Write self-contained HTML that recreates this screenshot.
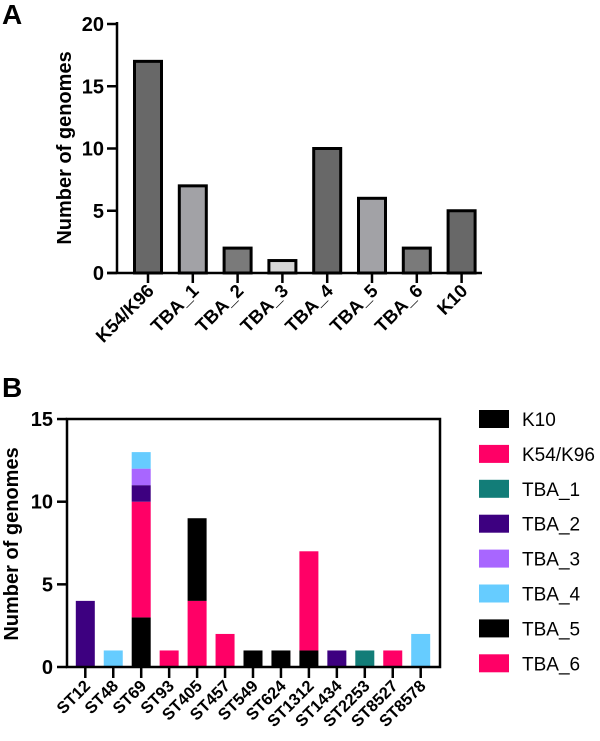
<!DOCTYPE html>
<html><head><meta charset="utf-8"><style>
body{margin:0;background:#fff;}
svg{display:block;font-family:"Liberation Sans",Arial,sans-serif;}
</style></head><body>
<svg id="svg" width="600" height="741" viewBox="0 0 600 741">
<text x="2" y="24" font-size="28" font-weight="bold">A</text>
<text x="2" y="397" font-size="28" font-weight="bold">B</text>
<g id="ga"></g>
<g id="gb"></g>
</svg>
<script>
const NS="http://www.w3.org/2000/svg";
function mk(p,t,a){const e=document.createElementNS(NS,t);for(const k in a)e.setAttribute(k,a[k]);p.appendChild(e);return e;}

// Chart A data
const catsA=["K54/K96","TBA_1","TBA_2","TBA_3","TBA_4","TBA_5","TBA_6","K10"];
const valsA=[17,7,2,1,10,6,2,5];
const fillsA=["#686868","#a2a2a6","#7a7a7a","#d6d6d6","#686868","#a2a2a6","#7a7a7a","#686868"];
const ticksA=[0,5,10,15,20];

// Chart B data
const catsB=["ST12","ST48","ST69","ST93","ST405","ST457","ST549","ST624","ST1312","ST1434","ST2253","ST8527","ST8578"];
const seriesNames=["K10","K54/K96","TBA_1","TBA_2","TBA_3","TBA_4","TBA_5","TBA_6"];
const seriesColors=["#000000","#ff0066","#127d78","#3d0080","#a866ff","#66ccff","#000000","#ff0066"];
const sK10=[0,0,3,0,0,0,1,0,1,0,0,0,0];
const sK54=[0,0,7,1,4,2,0,0,6,0,0,1,0];
const sTBA1=[0,0,0,0,0,0,0,0,0,0,1,0,0];
const sTBA2=[4,0,1,0,0,0,0,0,0,1,0,0,0];
const sTBA3=[0,0,1,0,0,0,0,0,0,0,0,0,0];
const sTBA4=[0,1,1,0,0,0,0,0,0,0,0,0,2];
const sTBA5=[0,0,0,0,5,0,0,1,0,0,0,0,0];
const sTBA6=[0,0,0,0,0,0,0,0,0,0,0,0,0];
const ticksB=[0,5,10,15];

// ---- Chart A
const ga=document.getElementById('ga');
const yA=v=>273-v*12.45, xA=i=>148+i*44.8;
catsA.forEach((c,i)=>{
  const r=mk(ga,'rect',{x:xA(i)-13.5,y:yA(valsA[i]),width:27,height:yA(0)-yA(valsA[i]),fill:fillsA[i],stroke:'#000','stroke-width':3});
  
  
  mk(ga,'line',{x1:xA(i),x2:xA(i),y1:273,y2:283,stroke:'#000','stroke-width':2.5});
  const t=mk(ga,'text',{transform:`translate(${xA(i)+7},${292}) rotate(-45)`,'text-anchor':'end','font-size':18.5,'font-weight':'bold'});
  t.textContent=c;
  
  
});
mk(ga,'line',{x1:117,x2:117,y1:22,y2:274,stroke:'#000','stroke-width':2.5});
mk(ga,'line',{x1:107,x2:482,y1:273,y2:273,stroke:'#000','stroke-width':2.5});
ticksA.forEach(v=>{
  mk(ga,'line',{x1:107,x2:117,y1:yA(v),y2:yA(v),stroke:'#000','stroke-width':2.5});
  const t=mk(ga,'text',{x:104,y:yA(v)+7,'text-anchor':'end','font-size':20,'font-weight':'bold'});
  t.textContent=v;
  
  
});
const ta=mk(ga,'text',{transform:'translate(71,148) rotate(-90)','text-anchor':'middle','font-size':20,'font-weight':'bold'});
ta.textContent='Number of genomes';



// ---- Chart B
const gb=document.getElementById('gb');
const yB=v=>667-v*16.53, xB=i=>85.3+i*27.95;
const series=[sK10,sK54,sTBA1,sTBA2,sTBA3,sTBA4,sTBA5,sTBA6];
catsB.forEach((c,i)=>{
  let base=0;
  series.forEach((s,k)=>{
    if(!s[i])return;
    const r=mk(gb,'rect',{x:xB(i)-9.5,y:yB(base+s[i]),width:19,height:yB(base)-yB(base+s[i]),fill:seriesColors[k]});
    
    
    base+=s[i];
  });
  mk(gb,'line',{x1:xB(i),x2:xB(i),y1:667,y2:678,stroke:'#000','stroke-width':2.5});
  const t=mk(gb,'text',{transform:`translate(${xB(i)+6},${687}) rotate(-45)`,'text-anchor':'end','font-size':16.5,'font-weight':'bold'});
  t.textContent=c;
  
  
});
mk(gb,'rect',{x:67,y:419,width:373,height:248,fill:'none',stroke:'#000','stroke-width':2.5});
ticksB.forEach(v=>{
  mk(gb,'line',{x1:57,x2:67,y1:yB(v),y2:yB(v),stroke:'#000','stroke-width':2.5});
  const t=mk(gb,'text',{x:53,y:yB(v)+7,'text-anchor':'end','font-size':20,'font-weight':'bold'});
  t.textContent=v;
  
  
});
const tb=mk(gb,'text',{transform:'translate(18,544) rotate(-90)','text-anchor':'middle','font-size':20,'font-weight':'bold'});
tb.textContent='Number of genomes';


seriesNames.forEach((n,k)=>{
  const cy=419+k*34.9;
  const r=mk(gb,'rect',{x:479,y:cy-9,width:30,height:18,fill:seriesColors[k]});
  
  
  const t=mk(gb,'text',{x:522,y:cy+7,'font-size':19});
  t.textContent=n;
  
  
});
</script>
</body></html>
